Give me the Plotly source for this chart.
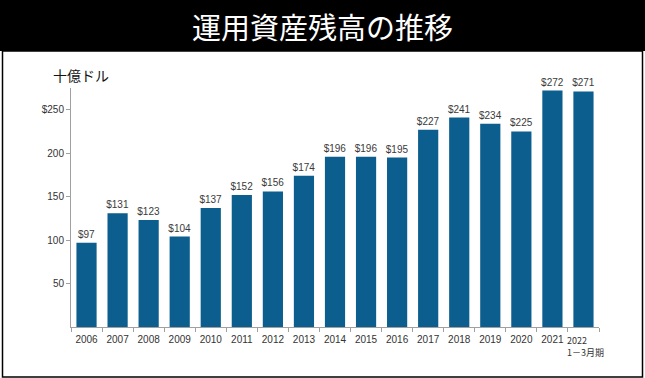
import plotly.graph_objects as go

years = ["2006", "2007", "2008", "2009", "2010", "2011", "2012", "2013", "2014",
         "2015", "2016", "2017", "2018", "2019", "2020", "2021", "2022"]
values = [97, 131, 123, 104, 137, 152, 156, 174, 196, 196, 195, 227, 241, 234, 225, 272, 271]
tick_labels = years[:-1] + [""]
last_label = "2022<br>1－3月期"
y_ticks = [50, 100, 150, 200, 250]
y_tick_text = ["50", "100", "150", "200", "$250"]
title = "運用資産残高の推移"
unit = "十億ドル"

W, H = 645, 378
L, R, T, B = 71, 46, 88, 51
pw, ph = W - L - R, H - T - B

def px(q):
    return (q - L) / pw

def py(p):
    return (H - B - p) / ph

fig = go.Figure(go.Bar(
    x=years, y=values,
    marker=dict(color="#0B5E8D", line=dict(width=0)),
    texttemplate="$%{y}", textposition="outside", constraintext="none",
    textfont=dict(family="Liberation Sans, Arial", size=10, color="#3A3A3A"),
    cliponaxis=False, hoverinfo="skip",
))

fig.update_layout(
    width=W, height=H,
    margin=dict(l=L, r=R, t=T, b=B, autoexpand=False),
    paper_bgcolor="white", plot_bgcolor="white",
    bargap=0.35, showlegend=False,
    font=dict(family="Liberation Sans, Arial", size=10, color="#333333"),
    xaxis=dict(type="category", tickvals=years, ticktext=tick_labels, tickangle=0,
               automargin=False, ticklabelstandoff=3,
               showline=True, linecolor="#A0A0A0", linewidth=1,
               ticks="outside", tickson="boundaries", ticklen=4, tickcolor="#A0A0A0",
               tickfont=dict(size=10, color="#333333"), showgrid=False),
    yaxis=dict(range=[0, 275], tickvals=y_ticks, ticktext=y_tick_text, automargin=False,
               showline=True, linecolor="#A0A0A0", linewidth=1,
               ticks="outside", ticklen=4, tickcolor="#A0A0A0",
               tickfont=dict(size=10, color="#333333"), showgrid=False, zeroline=False),
    shapes=[
        dict(type="rect", xref="paper", yref="paper", x0=px(0), x1=px(W), y0=py(51), y1=py(0),
             fillcolor="black", line=dict(width=0), layer="below"),
        dict(type="rect", xref="paper", yref="paper", x0=px(2.5), x1=px(642.5), y0=py(377), y1=py(51),
             fillcolor="rgba(0,0,0,0)", line=dict(color="black", width=1.5)),
    ],
    annotations=[
        dict(text=title, xref="paper", yref="paper", x=px(322), y=py(26),
             showarrow=False, xanchor="center", yanchor="middle",
             font=dict(family="Noto Sans CJK JP", size=29, color="white")),
        dict(text=unit, xref="paper", yref="paper", x=px(81), y=py(75),
             showarrow=False, xanchor="center", yanchor="middle",
             font=dict(family="Noto Sans CJK JP", size=14, color="#111111")),
        dict(text=last_label, xref="paper", yref="paper", x=px(565), y=py(332),
             showarrow=False, xanchor="left", yanchor="top", align="left",
             font=dict(family="Noto Sans CJK JP", size=9, color="#333333")),
    ],
)

fig.write_html("out.html", config={"displayModeBar": False},
               post_script="document.body.style.margin='0';document.body.style.overflow='hidden';")
